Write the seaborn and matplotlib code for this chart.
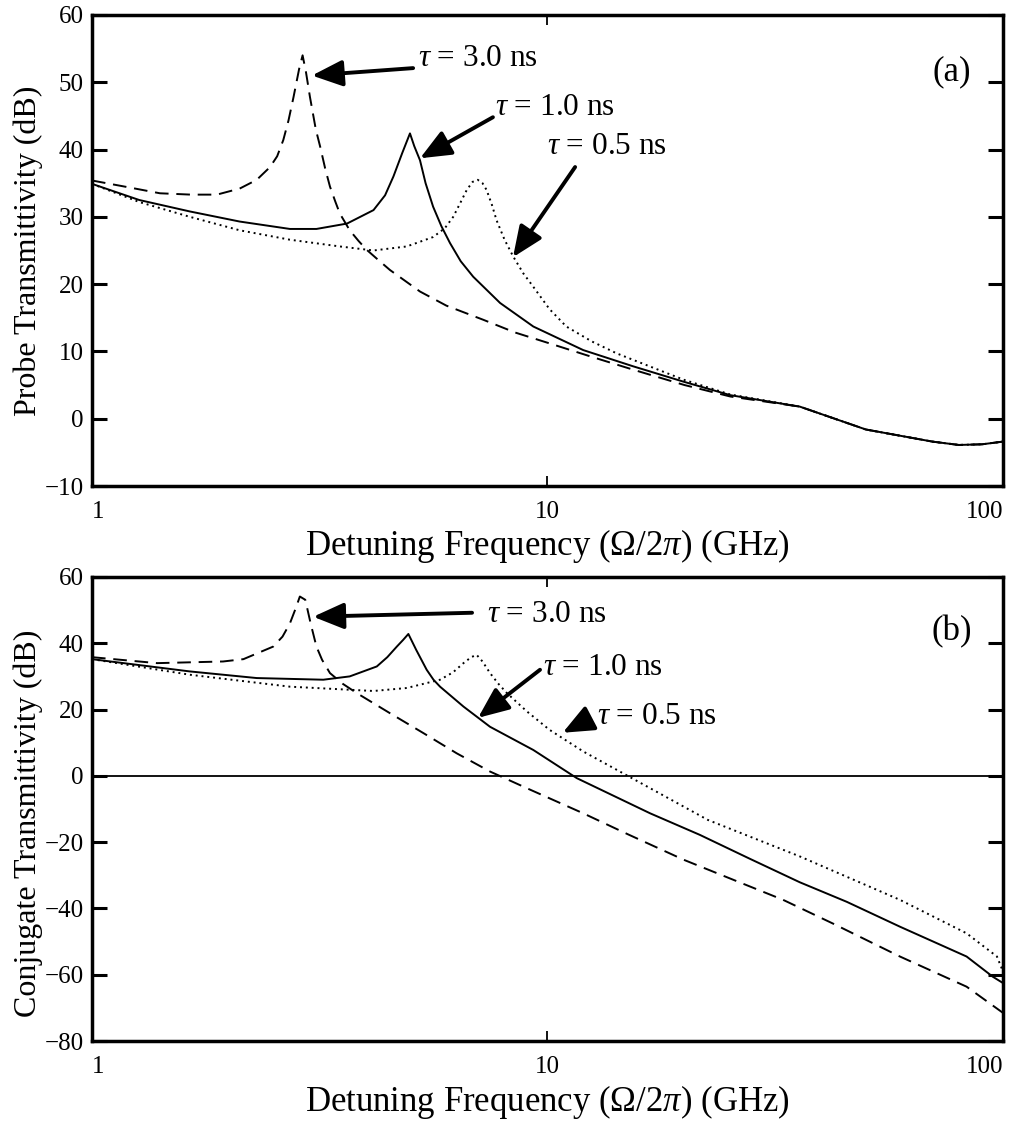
import numpy as np
import pandas as pd
import matplotlib
matplotlib.use("Agg")
import matplotlib.pyplot as plt
import seaborn as sns
from matplotlib.ticker import NullLocator

# ---------------- data ----------------
tau_labels = ["3.0", "1.0", "0.5"]

# (a) probe transmittivity
a_f_30 = [1.0, 1.2, 1.41, 1.65, 1.88, 2.11, 2.3, 2.46, 2.55, 2.63, 2.70, 2.77, 2.85, 2.90, 2.95, 3.01,
          3.1, 3.17, 3.25, 3.33, 3.42, 3.5, 3.68, 3.85, 4.01, 4.25, 4.51, 5.25, 6.0, 7.23, 8.5, 10.1,
          12.5, 15.4, 20, 25.2, 35.8, 50, 70, 80, 90, 100]
a_db_30 = [35.4, 34.4, 33.5, 33.3, 33.3, 34.2, 35.5, 37.4, 39.0, 41.4, 44.3, 47.8, 52.0, 54.0, 51.5,
           47.8, 43.0, 40.4, 37.2, 34.5, 32.3, 30.5, 28.0, 26.4, 25.1, 23.6, 22.1, 18.9, 16.8, 14.7,
           12.8, 11.2, 9.2, 7.3, 5.0, 3.3, 1.8, -1.6, -3.4, -3.9, -3.8, -3.4]
a_f_10 = [1.0, 1.27, 1.64, 2.11, 2.72, 3.11, 3.63, 4.15, 4.4, 4.59, 4.8, 4.99, 5.1, 5.25, 5.4, 5.61,
          5.85, 6.11, 6.45, 6.87, 7.87, 9.31, 11.98, 15.4, 19.9, 25.2, 35.8, 50, 70, 80, 90, 100]
a_db_10 = [34.9, 32.5, 30.8, 29.3, 28.2, 28.2, 29.0, 31.0, 33.2, 36.0, 39.5, 42.4, 40.5, 38.4, 35.0,
           31.5, 28.6, 26.1, 23.4, 21.1, 17.2, 13.7, 10.2, 7.8, 5.5, 3.5, 1.8, -1.6, -3.4, -3.9, -3.8,
           -3.4]
a_f_05 = [1.0, 1.27, 1.64, 2.11, 2.72, 3.5, 4.15, 4.91, 5.25, 5.61, 5.95, 6.21, 6.45, 6.65, 6.85, 7.03,
          7.2, 7.35, 7.55, 7.73, 8.05, 8.41, 8.85, 9.31, 10.1, 11.0, 12.5, 14.2, 19.9, 25.2, 35.8, 50,
          70, 80, 90, 100]
a_db_05 = [34.9, 32.2, 30.0, 28.0, 26.6, 25.6, 25.0, 25.6, 26.3, 27.0, 28.3, 30.0, 32.2, 34.0, 35.2,
           35.5, 35.0, 34.0, 31.8, 29.5, 26.6, 24.1, 21.6, 19.6, 16.3, 13.7, 11.5, 9.7, 5.8, 3.6, 1.8,
           -1.6, -3.4, -3.9, -3.8, -3.4]

# (b) conjugate transmittivity
b_f_30 = [1.0, 1.39, 1.94, 2.15, 2.5, 2.62, 2.72, 2.80, 2.86, 2.94, 3.02, 3.11, 3.2, 3.33, 3.55, 3.81,
          4.51, 5.34, 6.32, 7.48, 9.0, 11.98, 15.0, 19.9, 25.0, 32.9, 42.4, 59.4, 83.2, 100]
b_db_30 = [35.8, 34.0, 34.5, 35.2, 39.0, 42.0, 46.0, 50.5, 54.1, 53.1, 46.0, 39.0, 35.0, 31.0, 27.8,
           25.0, 18.9, 12.9, 6.8, 1.3, -3.7, -11.3, -17.6, -25.3, -30.8, -37.4, -44.6, -54.5, -63.6,
           -71.5]
b_f_10 = [1.0, 1.64, 2.30, 3.22, 3.68, 4.22, 4.45, 4.67, 4.82, 4.95, 5.15, 5.43, 5.62, 5.81, 6.54, 7.48,
          9.31, 11.6, 16.8, 21.6, 27.8, 35.8, 45.4, 59.4, 83.2, 95, 100]
b_db_10 = [35.2, 31.5, 29.5, 29.0, 30.0, 33.0, 35.8, 39.0, 41.0, 42.8, 38.0, 32.0, 29.0, 26.9, 20.9,
           14.8, 7.8, -0.7, -11.3, -17.8, -25.0, -32.1, -38.0, -45.5, -54.5, -60.6, -62.5]
b_f_05 = [1.0, 1.64, 2.72, 4.15, 4.91, 5.81, 6.2, 6.54, 6.8, 6.99, 7.2, 7.48, 7.8, 8.14, 9.0, 10.1, 12.0,
          14.2, 22.5, 35.8, 59.4, 83.2, 97, 100]
b_db_05 = [35.2, 30.5, 26.9, 25.6, 26.5, 29.0, 31.2, 34.0, 35.8, 36.5, 34.5, 31.0, 27.8, 25.0, 19.5,
           13.9, 7.3, 1.8, -13.3, -24.3, -37.4, -47.5, -54.5, -59.0]

x_ticks = [1, 10, 100]
x_tick_labels = ["1", "10", "100"]
a_yticks = [-10, 0, 10, 20, 30, 40, 50, 60]
b_yticks = [-80, -60, -40, -20, 0, 20, 40, 60]


def make_df(fs, dbs):
    parts = []
    for lab, f, d in zip(tau_labels, fs, dbs):
        parts.append(pd.DataFrame({"f": f, "dB": d, "tau": lab}))
    return pd.concat(parts, ignore_index=True)


df_a = make_df([a_f_30, a_f_10, a_f_05], [a_db_30, a_db_10, a_db_05])
df_b = make_df([b_f_30, b_f_10, b_f_05], [b_db_30, b_db_10, b_db_05])

# ---------------- style ----------------
sns.set_theme(style="white")
plt.rcParams["font.family"] = ["Liberation Serif", "DejaVu Serif"]
plt.rcParams["mathtext.fontset"] = "custom"
plt.rcParams["mathtext.rm"] = "Liberation Serif"
plt.rcParams["mathtext.it"] = "Liberation Serif:italic"
for k in ["text.color", "axes.labelcolor", "xtick.color", "ytick.color", "axes.edgecolor"]:
    plt.rcParams[k] = "black"

fig = plt.figure(figsize=(10.13, 11.24), dpi=100)
ax1 = fig.add_axes([0.0908, 0.5676, 0.8993, 0.4191])
ax2 = fig.add_axes([0.0908, 0.0738, 0.8993, 0.4129])

dash_map = {"3.0": (7, 4), "1.0": "", "0.5": (1, 2)}

for ax, df in [(ax1, df_a), (ax2, df_b)]:
    sns.lineplot(data=df, x="f", y="dB", style="tau", style_order=tau_labels, dashes=dash_map,
                 color="black", linewidth=1.4, estimator=None, sort=False, legend=False, ax=ax)
    ax.set_xscale("log")
    ax.set_xlim(1, 100)
    ax.set_xticks(x_ticks, labels=x_tick_labels)
    ax.xaxis.set_minor_locator(NullLocator())
    for s in ax.spines.values():
        s.set_linewidth(2.5)
        s.set_color("black")
    ax.tick_params(axis="y", which="major", direction="in", length=11, width=2.2,
                   left=True, right=True, labelsize=18, pad=6)
    ax.tick_params(axis="x", which="major", direction="in", length=7, width=1.3,
                   bottom=True, top=True, labelsize=18, pad=11)
    xl = ax.get_xticklabels()
    xl[0].set_horizontalalignment("left")
    xl[-1].set_horizontalalignment("right")
    ax.set_xlabel("Detuning Frequency (Ω/2$\\pi$) (GHz)", fontsize=25)

ax1.set_ylim(-10, 60)
ax1.set_yticks(a_yticks)
ax1.set_ylabel("Probe Transmittivity (dB)", fontsize=23)
ax2.set_ylim(-80, 60)
ax2.set_yticks(b_yticks)
ax2.set_ylabel("Conjugate Transmittivity (dB)", fontsize=23)
ax2.axhline(0, color="black", linewidth=1.3)

ax1.xaxis.set_label_coords(0.5, -0.086)
ax2.xaxis.set_label_coords(0.5, -0.091)
ax1.yaxis.set_label_coords(-0.054, 0.5)
ax2.yaxis.set_label_coords(-0.054, 0.47)

arrow_kw = dict(arrowstyle="-|>,head_length=0.75,head_width=0.32", lw=2.8, color="black",
                shrinkA=0, shrinkB=0, mutation_scale=25)


def label(ax, tip, tail, pos, txt):
    ax.annotate("", xy=tip, xytext=tail, arrowprops=arrow_kw)
    ax.text(pos[0], pos[1], txt, fontsize=22.5, ha="left", va="center")


label(ax1, (3.04, 51.0), (5.07, 52.1), (5.20, 53.6), r"$\tau$ = 3.0 ns")
label(ax1, (5.25, 38.7), (7.59, 44.8), (7.67, 46.3), r"$\tau$ = 1.0 ns")
label(ax1, (8.40, 24.0), (11.5, 37.4), (9.97, 40.4), r"$\tau$ = 0.5 ns")
ax1.text(77.3, 51.5, "(a)", fontsize=25, ha="center", va="center")

label(ax2, (3.06, 48.0), (6.83, 49.2), (7.36, 48.6), r"$\tau$ = 3.0 ns")
label(ax2, (7.04, 17.5), (9.63, 32.0), (9.78, 32.6), r"$\tau$ = 1.0 ns")
label(ax2, (10.8, 13.0), (12.2, 16.8), (12.84, 17.8), r"$\tau$ = 0.5 ns")
ax2.text(77.3, 43.5, "(b)", fontsize=25, ha="center", va="center")

fig.savefig("out.png", dpi=100, facecolor="white")
